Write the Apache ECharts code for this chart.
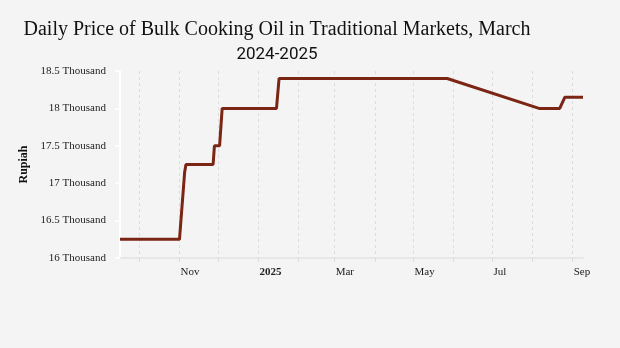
<!DOCTYPE html>
<html>
<head>
<meta charset="utf-8">
<script src="https://cdn.jsdelivr.net/npm/echarts@6/dist/echarts.min.js"></script>
<style>
html,body{margin:0;padding:0;background:#f4f4f4;}
#chart{width:620px;height:348px;}
</style>
</head>
<body>
<div id="chart"></div>
<script>
// ---- data ----
const dates = ['2024-09-16','2024-11-01','2024-11-05','2024-11-06','2024-11-27','2024-11-28','2024-12-02','2024-12-04','2025-01-15','2025-01-17','2025-05-27','2025-08-06','2025-08-22','2025-08-26','2025-09-09'];
const prices = [16250,16250,17150,17250,17250,17500,17500,18000,18000,18400,18400,18000,18000,18150,18150];
const yTicks = [16000,16500,17000,17500,18000,18500];
const yTickLabels = ['16 Thousand','16.5 Thousand','17 Thousand','17.5 Thousand','18 Thousand','18.5 Thousand'];
const xTickDates = ['2024-11-01','2025-01-01','2025-03-01','2025-05-01','2025-07-01','2025-09-01'];
const xTickLabels = ['Nov','2025','Mar','May','Jul','Sep'];
const titleLine1 = 'Daily Price of Bulk Cooking Oil in Traditional Markets, March';
const titleLine2 = '2024-2025';
const yName = 'Rupiah';
const xMin = '2024-09-16';
const xMax = '2025-09-09';

function parseDate(s){const p=s.split('-').map(Number);return new Date(p[0],p[1]-1,p[2]).getTime();}
const seriesData = dates.map((d,i)=>[parseDate(d),prices[i]]);
const xTickValues = xTickDates.map(parseDate);
const DAY = 86400000;

const chart = echarts.init(document.getElementById('chart'), null, {renderer:'canvas'});
chart.setOption({
  backgroundColor:'#f4f4f4',
  animation:false,
  title:[
    {text:titleLine1, left:272, top:15, textAlign:'center',
     textStyle:{fontFamily:'"Liberation Serif", serif', fontSize:20, fontWeight:'normal', color:'#111'}},
    {text:titleLine2, left:272, top:41, textAlign:'center',
     textStyle:{fontFamily:'Roboto, sans-serif', fontSize:17, fontWeight:'normal', color:'#111'}}
  ],
  grid:{left:120, right:37, top:71, bottom:90, containLabel:false},
  xAxis:[
    {type:'time', min:parseDate(xMin), max:parseDate(xMax), splitNumber:6, minInterval:58*DAY, maxInterval:62*DAY,
     axisLine:{show:true, lineStyle:{color:'#e2e2e2', width:1.5}},
     axisTick:{show:true, length:4, lineStyle:{color:'#dddddd'}},
     splitLine:{show:false},
     axisLabel:{show:true, align:'left', padding:[0,0,0,1], margin:9, color:'#222',
       fontFamily:'"Liberation Serif", serif', fontSize:11,
       formatter:function(v){const i=xTickValues.indexOf(v);const t=i>=0?xTickLabels[i]:'';return /^\d{4}$/.test(t)?'{b|'+t+'}':t;},
       rich:{b:{fontWeight:'bold', fontFamily:'"Liberation Serif", serif', fontSize:11, color:'#222'}}}
    },
    {type:'time', min:parseDate(xMin), max:parseDate(xMax), splitNumber:12, position:'bottom',
     axisLine:{show:false}, axisTick:{show:false}, axisLabel:{show:false},
     splitLine:{show:true, showMinLine:false, showMaxLine:false, lineStyle:{color:'#dddddd', type:[3,3], width:1}}}
  ],
  yAxis:{type:'value', min:yTicks[0], max:yTicks[yTicks.length-1], interval:500,
    name:yName, nameLocation:'middle', nameGap:90, nameRotate:90,
    nameTextStyle:{fontFamily:'"Liberation Serif", serif', fontSize:12, fontWeight:'bold', color:'#111'},
    axisLine:{show:true, lineStyle:{color:'#ffffff', width:2}},
    axisTick:{show:true, length:5, lineStyle:{color:'#ffffff', width:1.5}},
    splitLine:{show:false},
    axisLabel:{margin:14, color:'#222', fontFamily:'"Liberation Serif", serif', fontSize:11,
      formatter:function(v){const i=xTickValues.length>=0?yTicks.indexOf(v):-1;return i>=0?yTickLabels[i]:'';}}
  },
  series:[{type:'line', xAxisIndex:0, data:seriesData, showSymbol:false,
    lineStyle:{color:'#7b2515', width:3}, itemStyle:{color:'#7b2515'}}]
});
</script>
</body>
</html>
